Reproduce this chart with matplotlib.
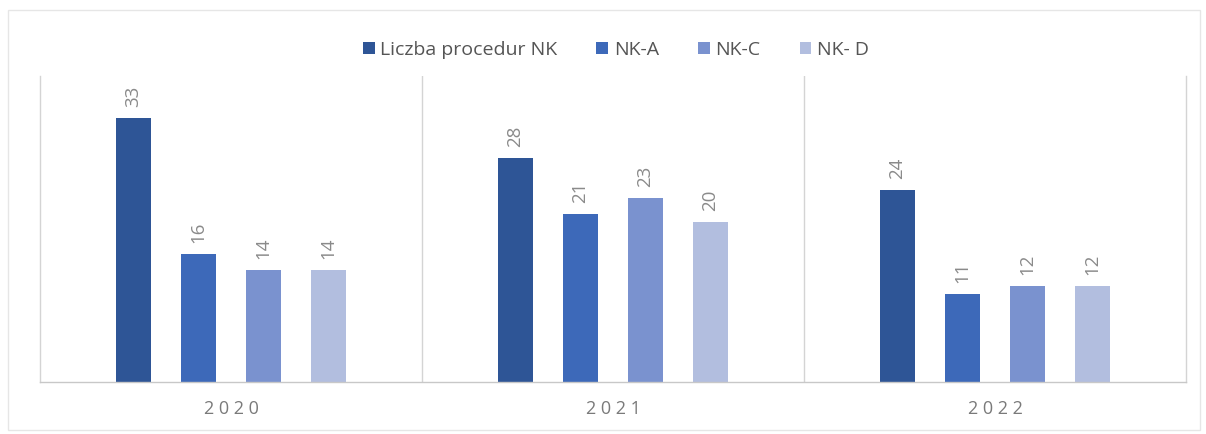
import matplotlib

matplotlib.use("Agg")
import matplotlib.pyplot as plt
from matplotlib.patches import Rectangle
import numpy as np

YEARS = ["2020", "2021", "2022"]
SERIES = ["Liczba procedur NK", "NK-A", "NK-C", "NK- D"]
LICZBA = [33, 28, 24]
NK_A = [16, 21, 11]
NK_C = [14, 23, 12]
NK_D = [14, 20, 12]

COLORS = ["#2e5596", "#3d69b9", "#7a92cf", "#b2bedf"]
TEXT_GRAY = "#7a7a7a"
LINE_GRAY = "#d4d4d4"

plt.rcParams["font.family"] = ["Open Sans", "DejaVu Sans"]

fig = plt.figure(figsize=(12.06, 4.34), dpi=100)
W, H = 1206, 434
ax = fig.add_axes([40 / W, 1 - 382 / H, (1186 - 40) / W, (382 - 76) / H])

values = [LICZBA, NK_A, NK_C, NK_D]
x = np.arange(len(YEARS))
step = 0.17
width = 0.09
for i, (name, vals) in enumerate(zip(SERIES, values)):
    pos = x + (i - 1.5) * step
    ax.bar(pos, vals, width=width, color=COLORS[i], label=name, zorder=2)
    for px, v in zip(pos, vals):
        ax.annotate(str(v), (px, v), xytext=(0, 8), textcoords="offset points",
                    ha="center", va="bottom", rotation=90, fontsize=13.5,
                    color="#8a8a8a")

ax.set_xlim(-0.5, 2.5)
ax.set_ylim(0, 38.3)
for xv in [0.5, 1.5]:
    ax.axvline(xv, color=LINE_GRAY, linewidth=1.0, zorder=1)
ax.spines["top"].set_visible(False)
for side in ["left", "right", "bottom"]:
    ax.spines[side].set_color(LINE_GRAY)
    ax.spines[side].set_linewidth(1.0)
ax.spines["bottom"].set_color("#c8c8c8")
ax.set_yticks([])
ax.set_xticks(x)
ax.set_xticklabels([" ".join(y) for y in YEARS], fontsize=13, color=TEXT_GRAY)
ax.tick_params(axis="x", length=0, pad=13)

fig.legend(loc="center", bbox_to_anchor=(616 / W, 1 - 50 / H), ncol=4, frameon=False,
           fontsize=14, handlelength=0.6, handleheight=0.6, handletextpad=0.3,
           columnspacing=2.0, labelcolor="#555555")

border = Rectangle((8 / W, 4 / H), 1192 / W, 420 / H, transform=fig.transFigure,
                   fill=False, edgecolor="#e6e6e6", linewidth=1.0)
fig.patches.append(border)

fig.savefig("out.png", dpi=100)
